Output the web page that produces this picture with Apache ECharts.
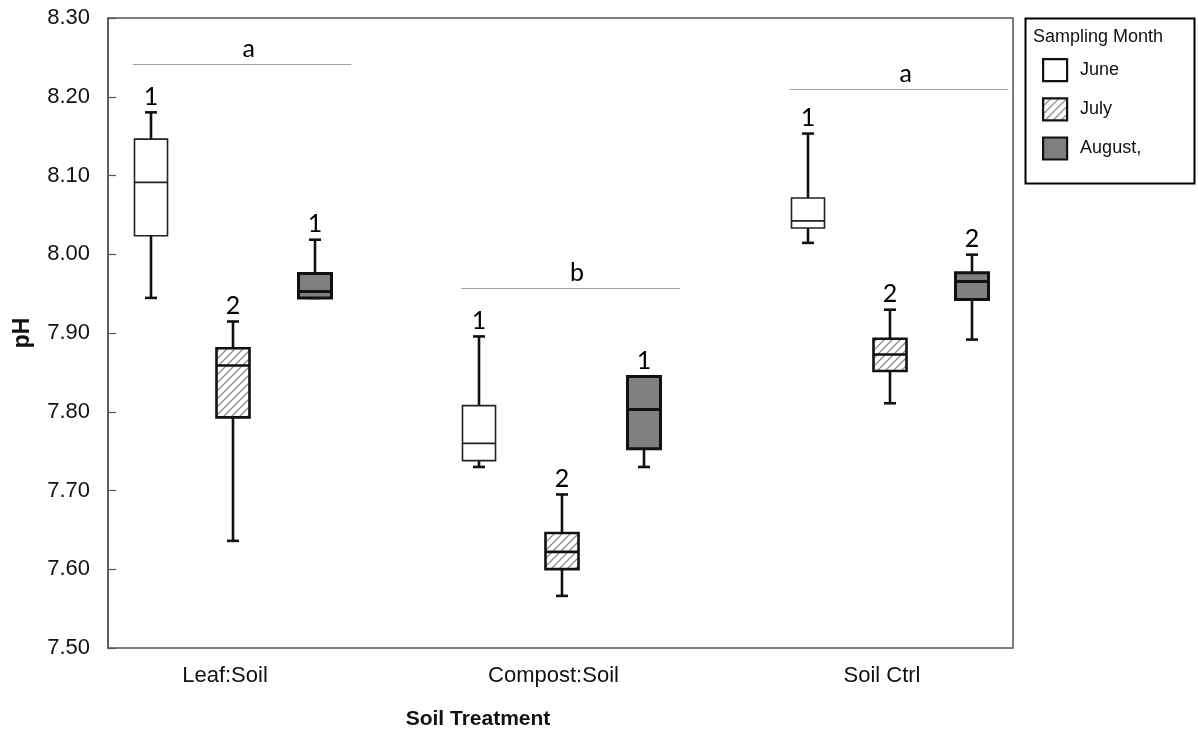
<!DOCTYPE html>
<html>
<head>
<meta charset="utf-8">
<script src="https://cdn.jsdelivr.net/npm/echarts@6/dist/echarts.min.js"></script>
<style>html,body{margin:0;padding:0;background:#fff;}#c{width:1198px;height:735px;}</style>
</head>
<body>
<div id="c"></div>
<script>
// ---- data ----
const categories = ['Leaf:Soil', 'Compost:Soil', 'Soil Ctrl'];
const months = ['June', 'July', 'August,'];
// [min, Q1, median, Q3, max] per category
const juneBox   = [[7.944, 8.023, 8.091, 8.146, 8.180], [7.729, 7.737, 7.759, 7.807, 7.895], [8.014, 8.033, 8.042, 8.071, 8.153]];
const julyBox   = [[7.635, 7.792, 7.858, 7.880, 7.914], [7.565, 7.599, 7.621, 7.645, 7.694], [7.810, 7.851, 7.872, 7.892, 7.929]];
const augustBox = [[7.944, 7.944, 7.952, 7.975, 8.018], [7.729, 7.752, 7.802, 7.844, 7.844], [7.891, 7.942, 7.965, 7.976, 7.999]];
// group labels above each box
const juneGroup   = ['1', '1', '1'];
const julyGroup   = ['2', '2', '2'];
const augustGroup = ['1', '1', '2'];
// treatment significance letters and the level of their bar
const treatmentLetters = ['a', 'b', 'a'];
const letterLevels = [8.242, 7.957, 8.210];
const yMin = 7.5, yMax = 8.3, yStep = 0.1;

// ---- styles ----
const hatch = (function () {
  const c = document.createElement('canvas');
  c.width = 8; c.height = 8;
  const g = c.getContext('2d');
  g.fillStyle = '#ffffff'; g.fillRect(0, 0, 8, 8);
  g.strokeStyle = '#8a8a8a'; g.lineWidth = 1.3;
  g.beginPath();
  g.moveTo(0, 8); g.lineTo(8, 0);
  g.moveTo(-2, 2); g.lineTo(2, -2);
  g.moveTo(6, 10); g.lineTo(10, 6);
  g.stroke();
  return { image: c, repeat: 'repeat' };
})();

const monthStyle = [
  { fill: '#ffffff', border: '#222', bw: 1.6, offset: -0.2511 },
  { fill: hatch,     border: '#111', bw: 2.6, offset: 0 },
  { fill: '#7f7f7f', border: '#111', bw: 3,   offset: 0.2511 }
];

function boxRender(mi, groups) {
  const st = monthStyle[mi];
  return function (params, api) {
    const idx = api.value(0);
    const band = api.size([1, 0])[0];
    const cx = Math.round(api.coord([idx, yMin])[0] + st.offset * band);
    const y = [1, 2, 3, 4, 5].map(k => api.coord([idx, api.value(k)])[1]);
    const w = band * 0.1005, cap = band * 0.0365;
    const wl = { stroke: '#111', lineWidth: 2.6 };
    return {
      type: 'group',
      children: [
        { type: 'line', shape: { x1: cx, y1: y[0], x2: cx, y2: y[1] }, style: wl },
        { type: 'line', shape: { x1: cx, y1: y[3], x2: cx, y2: y[4] }, style: wl },
        { type: 'line', shape: { x1: cx - cap / 2, y1: y[0], x2: cx + cap / 2, y2: y[0] }, style: wl },
        { type: 'line', shape: { x1: cx - cap / 2, y1: y[4], x2: cx + cap / 2, y2: y[4] }, style: wl },
        { type: 'rect', shape: { x: cx - w / 2, y: y[3], width: w, height: y[1] - y[3] },
          style: { fill: st.fill, stroke: st.border, lineWidth: st.bw } },
        { type: 'line', shape: { x1: cx - w / 2, y1: y[2], x2: cx + w / 2, y2: y[2] },
          style: { stroke: st.border, lineWidth: st.bw } },
        { type: 'text', x: cx, y: y[4] - 3,
          style: { text: groups[params.dataIndex], align: 'center', verticalAlign: 'bottom',
                   font: '25px Lato, "Open Sans", sans-serif', fill: '#000' } }
      ]
    };
  };
}

function letterRender(params, api) {
  const idx = api.value(0);
  const band = api.size([1, 0])[0];
  const c = api.coord([idx, api.value(1)]);
  const x1 = c[0] - 0.305 * band, x2 = c[0] + 0.36 * band;
  const yy = Math.round(c[1]) + 0.5;
  return {
    type: 'group',
    children: [
      { type: 'line', shape: { x1: x1, y1: yy, x2: x2, y2: yy }, style: { stroke: '#a0a0a0', lineWidth: 1.2 } },
      { type: 'text', x: (x1 + x2) / 2 + 0.02 * band, y: yy - 3,
        style: { text: treatmentLetters[params.dataIndex], align: 'center', verticalAlign: 'bottom',
                 font: '25px Lato, "Open Sans", sans-serif', fill: '#000' } }
    ]
  };
}

function toRows(boxes) { return boxes.map((b, i) => [i].concat(b)); }

const chart = echarts.init(document.getElementById('c'), null, { renderer: 'canvas' });
const font = '"Liberation Sans", Arial, sans-serif';
chart.setOption({
  animation: false,
  backgroundColor: '#ffffff',
  grid: [
    { left: 68.75, right: 143.75, top: 18, bottom: 87 },
    { left: 108, right: 185, top: 18, bottom: 87, show: true, borderColor: '#555', borderWidth: 1.5, backgroundColor: 'transparent' }
  ],
  xAxis: [
    { type: 'category', gridIndex: 0, data: categories, boundaryGap: true,
      axisLine: { show: false }, axisTick: { show: false }, splitLine: { show: false },
      axisLabel: { margin: 18, fontFamily: font, fontSize: 22, color: '#111', padding: [0, 16, 0, 0] },
      name: 'Soil Treatment', nameLocation: 'middle', nameGap: 62,
      nameTextStyle: { fontFamily: font, fontSize: 21, fontWeight: 'bold', color: '#111', padding: [0, 167, 0, 0] } },
    { type: 'value', gridIndex: 1, show: false, min: 0, max: 1 }
  ],
  yAxis: [
    { type: 'value', gridIndex: 0, min: yMin, max: yMax, interval: yStep, show: false },
    { type: 'value', gridIndex: 1, min: yMin, max: yMax, interval: yStep,
      axisLine: { show: true, lineStyle: { color: '#555', width: 1.5 } },
      axisTick: { show: true, inside: true, length: 8, lineStyle: { color: '#555', width: 1.2 } },
      splitLine: { show: false },
      axisLabel: { margin: 18, fontFamily: font, fontSize: 22, color: '#111', formatter: v => v.toFixed(2) },
      name: 'pH', nameLocation: 'middle', nameRotate: 90, nameGap: 74,
      nameTextStyle: { fontFamily: font, fontSize: 23, fontWeight: 'bold', color: '#111' } }
  ],
  legend: {
    orient: 'vertical', left: 1037, top: 53,
    itemWidth: 24, itemHeight: 22, itemGap: 15,
    icon: 'rect',
    selectedMode: false,
    textStyle: { fontFamily: font, fontSize: 18, color: '#111', padding: [0, 0, 0, 8] },
    data: [
      { name: months[0], itemStyle: { color: '#ffffff', borderColor: '#111', borderWidth: 2.2 } },
      { name: months[1], itemStyle: { color: hatch, borderColor: '#111', borderWidth: 2.2 } },
      { name: months[2], itemStyle: { color: '#7f7f7f', borderColor: '#111', borderWidth: 2.2 } }
    ]
  },
  graphic: [
    { type: 'rect', left: 1023, top: 16, shape: { width: 169, height: 165 },
      style: { fill: 'none', stroke: '#000', lineWidth: 2 }, z: 10 },
    { type: 'text', left: 1033, top: 28, style: { text: 'Sampling Month', font: '18px ' + font, fill: '#111' }, z: 10 }
  ],
  series: [
    { name: months[0], type: 'custom', xAxisIndex: 0, yAxisIndex: 0, data: toRows(juneBox),
      itemStyle: { color: '#ffffff', borderColor: '#111' },
      encode: { x: 0, y: [1, 2, 3, 4, 5] }, renderItem: boxRender(0, juneGroup) },
    { name: months[1], type: 'custom', xAxisIndex: 0, yAxisIndex: 0, data: toRows(julyBox),
      itemStyle: { color: hatch, borderColor: '#111' },
      encode: { x: 0, y: [1, 2, 3, 4, 5] }, renderItem: boxRender(1, julyGroup) },
    { name: months[2], type: 'custom', xAxisIndex: 0, yAxisIndex: 0, data: toRows(augustBox),
      itemStyle: { color: '#7f7f7f', borderColor: '#111' },
      encode: { x: 0, y: [1, 2, 3, 4, 5] }, renderItem: boxRender(2, augustGroup) },
    { name: 'letters', type: 'custom', xAxisIndex: 0, yAxisIndex: 0,
      data: letterLevels.map((v, i) => [i, v]),
      encode: { x: 0, y: 1 }, renderItem: letterRender }
  ]
});
</script>
</body>
</html>
